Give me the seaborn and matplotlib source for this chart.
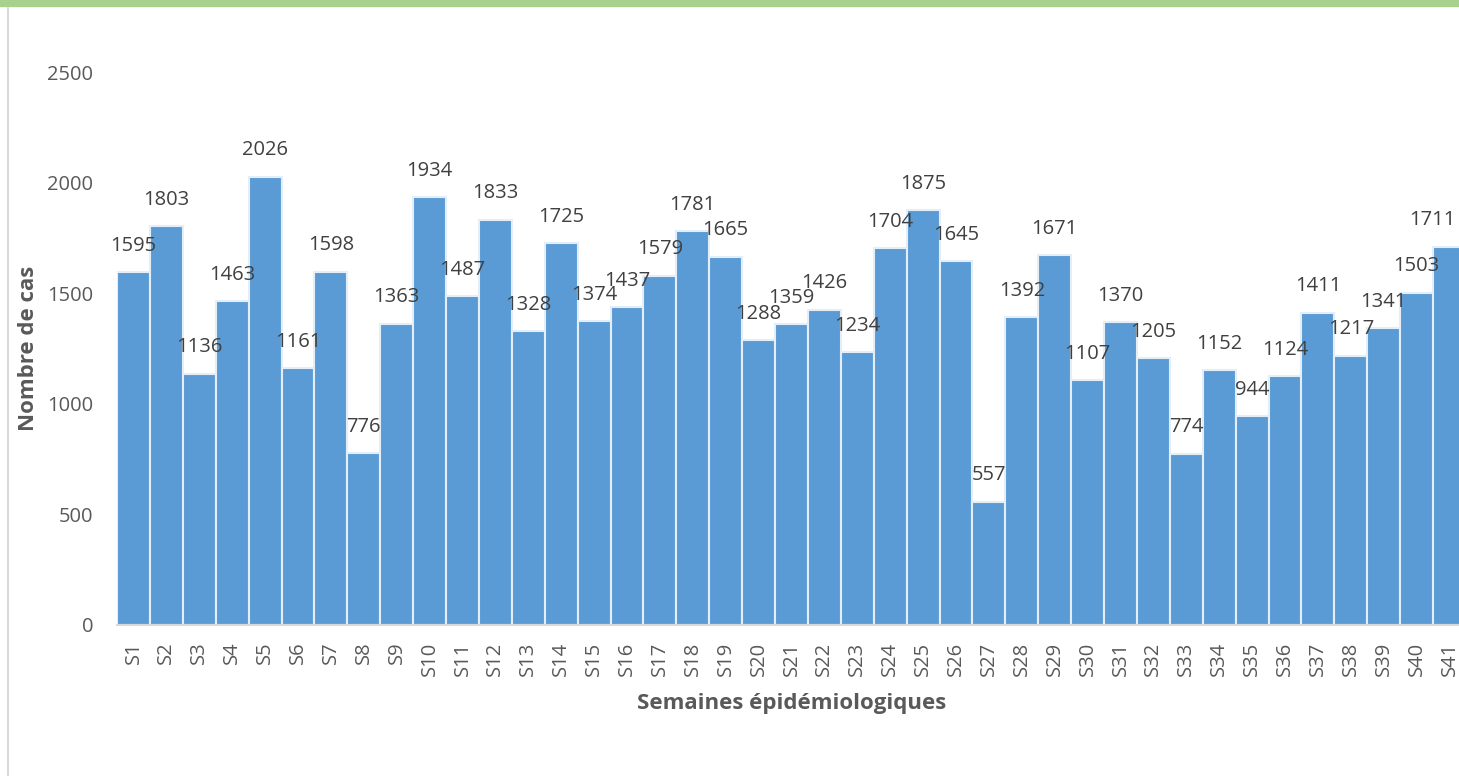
import pandas as pd
import seaborn as sns
import matplotlib.pyplot as plt
from matplotlib.lines import Line2D

# weekly case counts
weeks = ["S" + str(i) for i in range(1, 42)]
cases = [1595, 1803, 1136, 1463, 2026, 1161, 1598, 776, 1363, 1934,
         1487, 1833, 1328, 1725, 1374, 1437, 1579, 1781, 1665, 1288,
         1359, 1426, 1234, 1704, 1875, 1645, 557, 1392, 1671, 1107,
         1370, 1205, 774, 1152, 944, 1124, 1411, 1217, 1341, 1503, 1711]
yticks = [0, 500, 1000, 1500, 2000, 2500]

df = pd.DataFrame({"semaine": weeks, "cas": cases})

sns.set_theme(style="white")
plt.rcParams['font.family'] = ['Open Sans', 'DejaVu Sans']
grey = "#595959"

fig = plt.figure(figsize=(14.59, 7.76), dpi=100)
ax = fig.add_axes([117 / 1459, 1 - 625 / 776, (1466 - 117) / 1459, (625 - 72) / 776])

sns.barplot(data=df, x="semaine", y="cas", color="#5B9BD5", width=1.0,
            edgecolor="#E4EEF8", linewidth=1.5, saturation=1, ax=ax)

for i, v in enumerate(cases):
    last = i == len(cases) - 1
    ax.annotate(str(v), (i, v), xytext=(4 if last else 0, 19), textcoords="offset points",
                ha="right" if last else "center", va="center", fontsize=14.5, color="#404040")

ax.set_xlim(-0.5, len(weeks) - 0.5)
ax.set_ylim(0, 2500)
ax.set_yticks(yticks)
ax.tick_params(axis="y", labelsize=14.5, labelcolor=grey, length=0, pad=17)
ax.tick_params(axis="x", labelsize=14.5, labelcolor=grey, length=0, rotation=90, pad=12)
ax.set_ylabel("Nombre de cas", fontsize=16, fontweight="bold", color=grey, labelpad=6)
ax.set_xlabel("Semaines épidémiologiques", fontsize=16, fontweight="bold", color=grey, labelpad=12)

sns.despine(ax=ax, left=True, top=True, right=True)
ax.spines["bottom"].set_color("#D9D9D9")
ax.spines["bottom"].set_linewidth(1.5)

# frame decorations: green band on top, grey line on the left
fig.add_artist(Line2D([0, 1], [1 - 3 / 776, 1 - 3 / 776], color="#A9D18E", linewidth=6,
                      transform=fig.transFigure))
fig.add_artist(Line2D([8 / 1459, 8 / 1459], [0, 1 - 8 / 776], color="#D9D9D9", linewidth=1.5,
                      transform=fig.transFigure))

fig.savefig("out.png", dpi=100)
